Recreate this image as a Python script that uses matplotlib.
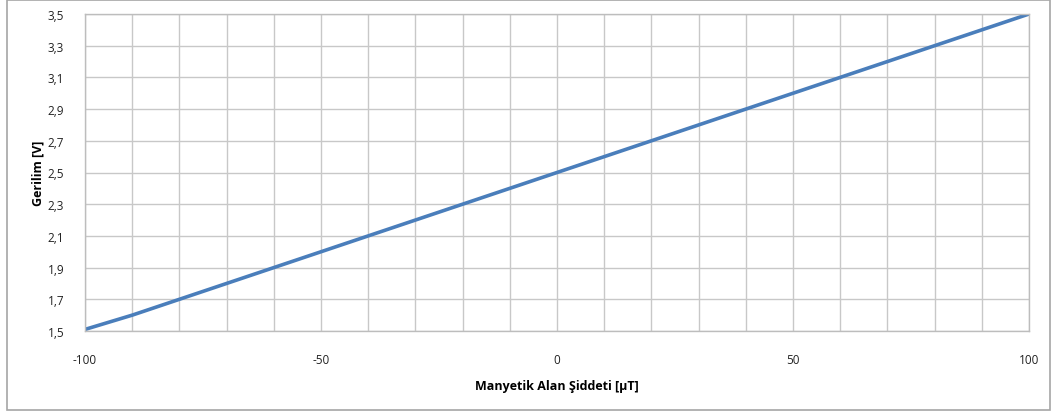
import matplotlib
matplotlib.use("Agg")
import matplotlib.pyplot as plt
from matplotlib.patches import Rectangle
from matplotlib.ticker import FuncFormatter

field_uT = [-100, -90, -80, -70, -60, -50, -40, -30, -20, -10, 0,
            10, 20, 30, 40, 50, 60, 70, 80, 90, 100]
voltage_V = [1.51, 1.60, 1.70, 1.80, 1.90, 2.00, 2.10, 2.20, 2.30, 2.40, 2.50,
             2.60, 2.70, 2.80, 2.90, 3.00, 3.10, 3.20, 3.30, 3.40, 3.50]
x_ticks = [-100, -50, 0, 50, 100]
y_ticks = [1.5, 1.7, 1.9, 2.1, 2.3, 2.5, 2.7, 2.9, 3.1, 3.3, 3.5]

plt.rcParams['font.family'] = ['Open Sans', 'DejaVu Sans']
plt.rcParams['axes.unicode_minus'] = False

fig = plt.figure(figsize=(10.52, 4.14), dpi=100)
fig.patches.append(Rectangle((7/1052, 3/414), 1043/1052, 410/414, transform=fig.transFigure,
                             fill=False, edgecolor='#a6a6a6', linewidth=1.2))
ax = fig.add_axes([85/1052, 1-332/414, (1029-85)/1052, (332-15)/414])

ax.plot(field_uT, voltage_V, color='#4a7ebb', linewidth=2.6, solid_capstyle='round')
ax.set_xlim(-100, 100)
ax.set_ylim(1.5, 3.5)
ax.set_xticks(x_ticks)
ax.set_xticks(range(-100, 101, 10), minor=True)
ax.set_yticks(y_ticks)
ax.yaxis.set_major_formatter(FuncFormatter(lambda v, p: f"{v:.1f}".replace('.', ',')))
ax.grid(True, which='both', color='#c8c8c8', linewidth=1.0)
ax.tick_params(which='both', length=0, labelsize=8.5, colors='#222222')
ax.tick_params(axis='x', pad=16)
ax.tick_params(axis='y', pad=15)
for s in ax.spines.values():
    s.set_color('#bdbdbd')
    s.set_linewidth(1.0)
ax.set_axisbelow(True)
ax.set_xlabel('Manyetik Alan Şiddeti [µT]', fontsize=9, fontweight='bold', labelpad=9)
ax.set_ylabel('Gerilim [V]', fontsize=9, fontweight='bold', labelpad=2)

fig.savefig('out.png', dpi=100)
